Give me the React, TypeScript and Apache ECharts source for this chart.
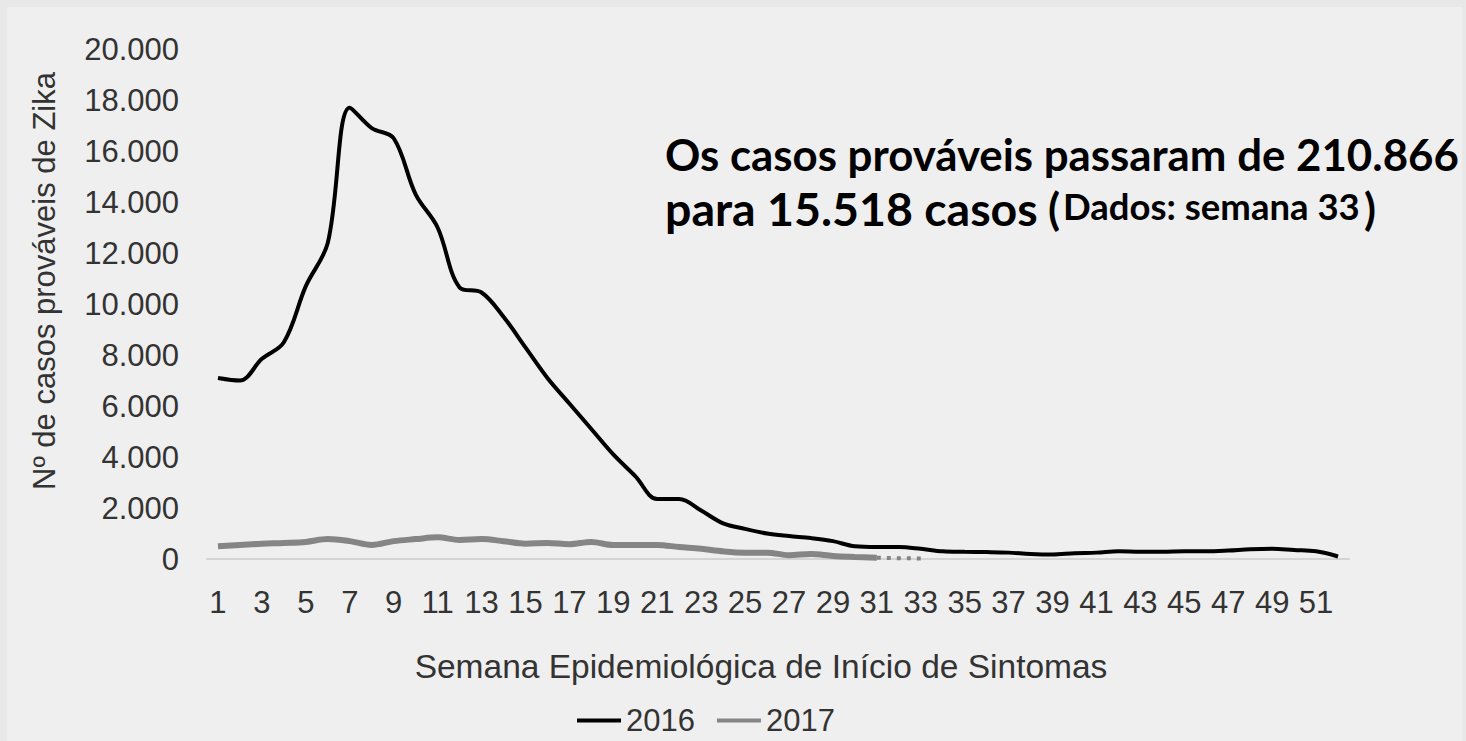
import React, { useEffect, useRef } from "react";
import * as echarts from "echarts";

const weeks: string[] = Array.from({ length: 52 }, (_, i) => String(i + 1));

const cases2016: number[] = [
  7100, 7000, 7850, 8500, 10700, 12400, 17700, 16900, 16500, 14300,
  13000, 10650, 10450, 9500, 8300, 7100, 6100, 5100, 4100, 3250,
  2350, 2350, 1900, 1400, 1180, 1000, 900, 820, 700, 500,
  470, 470, 400, 300, 280, 270, 250, 200, 180, 230,
  250, 300, 280, 280, 300, 300, 330, 380, 400, 350,
  300, 100,
];

const cases2017: (number | null)[] = [
  500, 550, 600, 630, 670, 780, 700, 550, 700, 780,
  850, 750, 780, 700, 600, 630, 580, 670, 550, 550,
  550, 470, 400, 300, 250, 250, 150, 200, 120, 80,
  50,
];

const cases2017Partial: (number | null)[] = [
  ...Array(30).fill(null), 50, 30, 20,
];

const yTicks = { min: 0, max: 20000, interval: 2000 };

const fmt = (v: number) =>
  v === 0 ? "0" : `${Math.floor(v / 1000)}.${String(v % 1000).padStart(3, "0")}`;

const SANS = "'Liberation Sans', Arial, sans-serif";
const ANNO = "Lato, 'Noto Sans', sans-serif";

const annoText = (text: string, x: number, y: number, size: number) => ({
  type: "text",
  x,
  y,
  style: {
    text,
    fill: "#000",
    font: `bold ${size}px ${ANNO}`,
    align: "left",
    verticalAlign: "middle",
  },
});

export default function App() {
  const ref = useRef<HTMLDivElement>(null);
  useEffect(() => {
    if (!ref.current) return;
    const chart = echarts.init(ref.current, null, { renderer: "svg" });
    chart.setOption({
      animation: false,
      backgroundColor: "#e8e8e8",
      grid: { left: 207, right: 117, top: 49, bottom: 182, containLabel: false },
      xAxis: {
        type: "category",
        data: weeks,
        boundaryGap: true,
        axisLine: { lineStyle: { color: "#d4d4d4", width: 2 } },
        axisTick: { show: false },
        axisLabel: {
          interval: 1,
          margin: 28,
          color: "#333",
          fontSize: 31,
          fontFamily: SANS,
        },
      },
      yAxis: {
        type: "value",
        min: yTicks.min,
        max: yTicks.max,
        interval: yTicks.interval,
        splitLine: { show: false },
        axisLine: { show: false },
        axisTick: { show: false },
        axisLabel: {
          margin: 28,
          color: "#333",
          fontSize: 31,
          fontFamily: SANS,
          formatter: (v: number) => fmt(v),
        },
      },
      legend: {
        data: ["2016", "2017"],
        left: 572,
        top: 700,
        icon: "rect",
        itemWidth: 44,
        itemHeight: 4,
        itemGap: 22,
        textStyle: { color: "#333", fontSize: 31, fontFamily: SANS },
      },
      graphic: [
        {
          type: "rect",
          z: -10,
          silent: true,
          shape: { x: 7, y: 7, width: 1455, height: 734 },
          style: { fill: "#efefef" },
        },
        {
          type: "text",
          x: 44,
          y: 281,
          rotation: Math.PI / 2,
          style: {
            text: "Nº de casos prováveis de Zika",
            fill: "#333",
            font: `31px ${SANS}`,
            align: "center",
            verticalAlign: "middle",
          },
        },
        {
          type: "text",
          x: 761,
          y: 666,
          style: {
            text: "Semana Epidemiológica de Início de Sintomas",
            fill: "#333",
            font: `33.5px ${SANS}`,
            align: "center",
            verticalAlign: "middle",
          },
        },
        annoText("Os casos prováveis passaram de 210.866", 665, 154, 43.8),
        annoText("para 15.518 casos", 665, 208, 46.5),
        annoText("(", 1048, 208, 43.8),
        annoText("Dados: semana 33", 1063, 206, 36.5),
        annoText(")", 1364, 208, 43.8),
      ],
      series: [
        {
          name: "2016",
          type: "line",
          data: cases2016,
          smooth: 0.35,
          symbol: "none",
          itemStyle: { color: "#000" },
          lineStyle: { color: "#000", width: 4 },
          z: 3,
        },
        {
          name: "2017",
          type: "line",
          data: cases2017,
          smooth: 0.35,
          symbol: "none",
          itemStyle: { color: "#858585" },
          lineStyle: { color: "#858585", width: 6 },
          z: 2,
        },
        {
          name: "2017",
          type: "line",
          data: cases2017Partial,
          symbol: "none",
          itemStyle: { color: "#858585" },
          lineStyle: { color: "#858585", width: 4, type: [4, 6] },
          z: 2,
        },
      ],
    });
    return () => chart.dispose();
  }, []);
  return (
    <div
      ref={ref}
      style={{ position: "fixed", left: 0, top: 0, width: 1466, height: 741 }}
    />
  );
}
